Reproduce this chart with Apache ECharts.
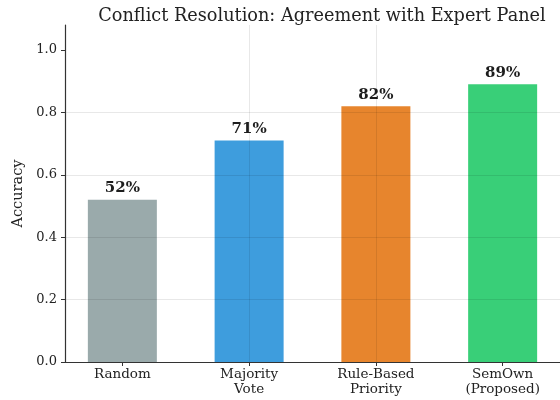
<!DOCTYPE html>
<html>
<head>
<meta charset="utf-8">
<script src="https://cdn.jsdelivr.net/npm/echarts@6/dist/echarts.min.js"></script>
<style>
  html, body { margin: 0; padding: 0; background: #fff; }
  #chart { width: 560px; height: 400px; }
</style>
</head>
<body>
<div id="chart"></div>
<script>
// Methods compared and their agreement with the expert panel
const categories = ['Random', 'Majority\nVote', 'Rule-Based\nPriority', 'SemOwn\n(Proposed)'];
const accuracy = [0.52, 0.71, 0.82, 0.89];
const barColors = ['#95a5a6', '#3498db', '#e67e22', '#2ecc71'];
const yTicks = [0, 0.2, 0.4, 0.6, 0.8, 1.0];
const categoryPositions = [0, 1, 2, 3];

const serif = 'DejaVu Serif';
const axisColor = '#333';
const gridColor = 'rgba(0,0,0,0.09)';

const chart = echarts.init(document.getElementById('chart'), null, { renderer: 'canvas' });

chart.setOption({
  animation: false,
  backgroundColor: '#fff',
  title: {
    text: 'Conflict Resolution: Agreement with Expert Panel',
    left: 317,
    top: 2,
    textAlign: 'center',
    textStyle: { fontFamily: serif, fontSize: 17.7, fontWeight: 'normal', color: '#222' }
  },
  grid: { left: 65, right: -9, top: 25, bottom: 38, containLabel: false },
  xAxis: {
    type: 'value',
    min: -0.4525,
    max: 3.4525,
    z: 5,
    axisLine: { show: true, onZero: false, lineStyle: { color: axisColor, width: 1.2 } },
    axisTick: { show: true, length: 4, customValues: categoryPositions, lineStyle: { color: axisColor } },
    axisLabel: {
      customValues: categoryPositions,
      margin: 5,
      fontFamily: serif,
      fontSize: 13.5,
      lineHeight: 15,
      color: '#222',
      formatter: v => (categories[Math.round(v)] !== undefined) ? categories[Math.round(v)] : ''
    },
    splitLine: { show: true, showMinLine: false, showMaxLine: false, lineStyle: { color: gridColor, width: 1 } }
  },
  yAxis: {
    type: 'value',
    min: 0,
    max: 1.08,
    interval: 0.2,
    z: 5,
    name: 'Accuracy',
    nameLocation: 'middle',
    nameGap: 38,
    nameTextStyle: { fontFamily: serif, fontSize: 14.5, color: '#222' },
    axisLine: { show: true, onZero: false, lineStyle: { color: axisColor, width: 1.2 } },
    axisTick: { show: true, length: 4, customValues: yTicks, lineStyle: { color: axisColor } },
    axisLabel: {
      customValues: yTicks,
      margin: 8,
      fontFamily: serif,
      fontSize: 13,
      color: '#222',
      formatter: v => v.toFixed(1)
    },
    splitLine: { show: true, showMinLine: false, showMaxLine: false, lineStyle: { color: gridColor, width: 1 } }
  },
  series: [{
    type: 'bar',
    barWidth: 69,
    z: 2,
    data: accuracy.map((v, i) => ({
      value: [categoryPositions[i], v],
      itemStyle: { color: barColors[i], opacity: 0.95 }
    })),
    label: {
      show: true,
      position: 'top',
      distance: 4,
      fontFamily: serif,
      fontSize: 15,
      fontWeight: 'bold',
      color: '#111',
      formatter: p => Math.round(p.value[1] * 100) + '%'
    }
  }]
});
</script>
</body>
</html>
